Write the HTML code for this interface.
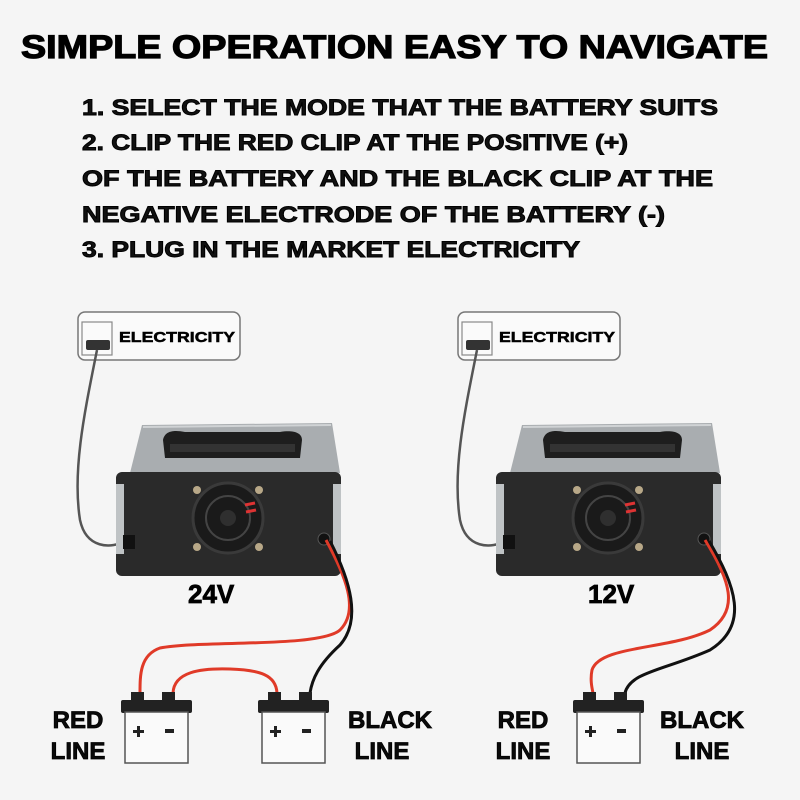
<!DOCTYPE html>
<html><head><meta charset="utf-8"><style>html,body{margin:0;padding:0;background:#f5f5f5}svg{display:block}</style></head>
<body>
<svg width="800" height="800" viewBox="0 0 800 800" xmlns="http://www.w3.org/2000/svg" font-family="Liberation Sans, sans-serif" font-weight="bold">
<rect width="800" height="800" fill="#f5f5f5"/>
<g stroke="#000" stroke-width="0.9">
<text x="21" y="58" font-size="32" textLength="747" lengthAdjust="spacingAndGlyphs" stroke-width="1.2">SIMPLE OPERATION EASY TO NAVIGATE</text>
<g font-size="22" fill="#111">
<text x="82" y="115" textLength="636" lengthAdjust="spacingAndGlyphs">1. SELECT THE MODE THAT THE BATTERY SUITS</text>
<text x="82" y="150" textLength="546" lengthAdjust="spacingAndGlyphs">2. CLIP THE RED CLIP AT THE POSITIVE (+)</text>
<text x="82" y="186" textLength="631" lengthAdjust="spacingAndGlyphs">OF THE BATTERY AND THE BLACK CLIP AT THE</text>
<text x="82" y="222" textLength="583" lengthAdjust="spacingAndGlyphs">NEGATIVE ELECTRODE OF THE BATTERY (-)</text>
<text x="82" y="257" textLength="498" lengthAdjust="spacingAndGlyphs">3. PLUG IN THE MARKET ELECTRICITY</text>
</g>
</g>

<defs>
<g id="unit">
  <rect x="78" y="312" width="162" height="48" rx="7" fill="#fafafa" stroke="#777" stroke-width="1.5"/>
  <rect x="82" y="322" width="30" height="33" fill="#fafafa" stroke="#888" stroke-width="1.2"/>
  <rect x="86" y="340" width="24" height="10" rx="2" fill="#333"/>
  <text x="119" y="342" font-size="15" textLength="116" lengthAdjust="spacingAndGlyphs" stroke="#000" stroke-width="0.5">ELECTRICITY</text>
  <path d="M97,350 C85,410 72,470 80,520 C86,548 110,550 128,540" stroke="#555" stroke-width="2.5" fill="none"/>
  <path d="M130,473 L142,425 L332,423 L340,473 Z" fill="#a9adb0"/>
  <path d="M143,427 L331,425" stroke="#d0d3d5" stroke-width="2"/>
  <path d="M163,440 C165,430 175,430 185,432 L280,432 C292,430 302,432 302,440 L300,458 L165,458 Z" fill="#1e1e1e"/>
  <rect x="170" y="444" width="125" height="8" fill="#333"/>
  <rect x="116" y="472" width="225" height="104" rx="6" fill="#2a2a2a"/>
  <rect x="116" y="484" width="8" height="70" fill="#bfc3c5"/>
  <rect x="333" y="484" width="8" height="70" fill="#bfc3c5"/>
  <circle cx="228" cy="518" r="35" fill="#1a1a1a" stroke="#3a3a3a" stroke-width="3"/>
  <circle cx="228" cy="518" r="22" fill="none" stroke="#444" stroke-width="2"/>
  <circle cx="228" cy="518" r="8" fill="#2f2f2f"/>
  <path d="M245,505 L255,503 M246,512 L256,510" stroke="#d33" stroke-width="3"/>
  <circle cx="197" cy="490" r="4" fill="#b8a888"/><circle cx="259" cy="490" r="4" fill="#b8a888"/>
  <circle cx="197" cy="547" r="4" fill="#b8a888"/><circle cx="259" cy="547" r="4" fill="#b8a888"/>
  <rect x="123" y="535" width="12" height="14" fill="#111"/>
  <circle cx="324" cy="539" r="6" fill="#111" stroke="#555"/>
</g>
<g id="bat">
  <rect x="10" y="0" width="13" height="9" fill="#222"/>
  <rect x="41" y="0" width="13" height="9" fill="#222"/>
  <rect x="0" y="8" width="71" height="13" rx="2" fill="#222"/>
  <rect x="4" y="20" width="63" height="51" fill="#fafafa" stroke="#555" stroke-width="1.5"/>
  <rect x="12" y="38" width="11" height="3" fill="#222"/>
  <rect x="16" y="34" width="3" height="11" fill="#222"/>
  <rect x="44" y="37" width="9" height="4" fill="#222"/>
</g>
</defs>

<use href="#unit"/>
<use href="#unit" transform="translate(380,0)"/>

<g stroke="#000" stroke-width="0.8">
<text x="188" y="603" font-size="26">24V</text>
<text x="588" y="603" font-size="26">12V</text>
</g>

<path d="M326,540 C345,575 360,610 340,630 C320,648 200,640 160,648 C140,655 140,675 140,693" stroke="#e03a28" stroke-width="3" fill="none"/>
<path d="M330,541 C350,580 362,620 340,645 C318,665 312,680 310,693" stroke="#111" stroke-width="3" fill="none"/>
<path d="M173,693 C174,672 200,668 230,669 C260,670 276,675 277,693" stroke="#e03a28" stroke-width="3" fill="none"/>
<use href="#bat" transform="translate(121,692)"/>
<use href="#bat" transform="translate(258,692)"/>

<path d="M705,540 C730,580 740,610 710,630 C670,650 600,645 592,670 C590,680 592,688 593,693" stroke="#e03a28" stroke-width="3" fill="none"/>
<path d="M709,541 C735,585 750,625 710,650 C665,670 630,672 625,693" stroke="#111" stroke-width="3" fill="none"/>
<use href="#bat" transform="translate(573,692)"/>

<g font-size="24" fill="#0a0a0a" text-anchor="middle" stroke="#000" stroke-width="0.8">
<text x="78" y="728">RED</text><text x="78" y="759">LINE</text>
<text x="390" y="728">BLACK</text><text x="382" y="759">LINE</text>
<text x="523" y="728">RED</text><text x="523" y="759">LINE</text>
<text x="702" y="728">BLACK</text><text x="702" y="759">LINE</text>
</g>
</svg>
</body></html>
